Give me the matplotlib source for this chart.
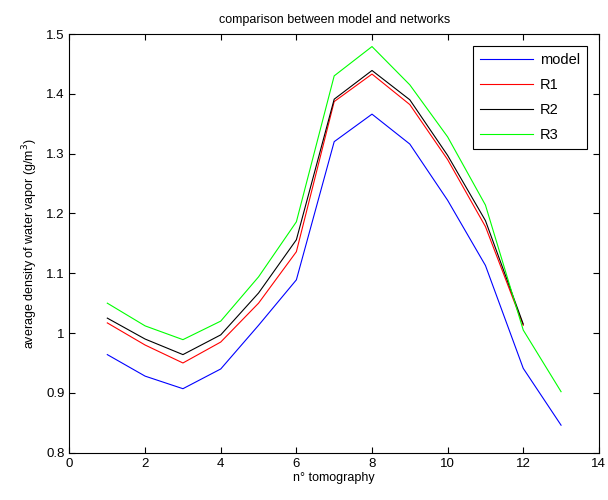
import numpy as np
import matplotlib.pyplot as plt

plt.rcParams['font.family'] = ['Liberation Sans', 'DejaVu Sans']

# data
tomo = [1, 2, 3, 4, 5, 6, 7, 8, 9, 10, 11, 12, 13]
model = [0.964, 0.928, 0.907, 0.940, 1.013, 1.089, 1.320, 1.366, 1.316, 1.222, 1.113, 0.941, 0.846]
r1 = [1.017, 0.980, 0.950, 0.985, 1.050, 1.136, 1.387, 1.433, 1.382, 1.290, 1.178, 1.013]
r2 = [1.025, 0.990, 0.964, 0.997, 1.067, 1.156, 1.391, 1.439, 1.390, 1.297, 1.188, 1.015]
r3 = [1.050, 1.012, 0.989, 1.020, 1.094, 1.186, 1.430, 1.479, 1.415, 1.328, 1.214, 1.005, 0.902]

xticks = [0, 2, 4, 6, 8, 10, 12, 14]
yticks = [0.8, 0.9, 1.0, 1.1, 1.2, 1.3, 1.4, 1.5]
ytick_labels = ['0.8', '0.9', '1', '1.1', '1.2', '1.3', '1.4', '1.5']

fig = plt.figure(figsize=(6.08, 5.0), dpi=100)
ax = fig.add_axes([0.1143, 0.0946, 0.8707, 0.8374])

ax.plot(tomo, model, color='#0000ff', lw=0.8, label='model')
ax.plot(tomo[:len(r1)], r1, color='#ff0000', lw=0.8, label='R1')
ax.plot(tomo[:len(r2)], r2, color='#000000', lw=0.8, label='R2')
ax.plot(tomo, r3, color='#00ff00', lw=0.8, label='R3')

ax.set_xlim(0, 14)
ax.set_ylim(0.8, 1.5)
ax.set_xticks(xticks)
ax.set_yticks(yticks)
ax.set_yticklabels(ytick_labels)
ax.tick_params(direction='in', top=True, right=True, labelsize=9.5, length=4, width=0.8)
for s in ax.spines.values():
    s.set_linewidth(0.8)

ax.set_title('comparison between model and networks', fontsize=9, pad=8)
ax.set_xlabel('n° tomography', fontsize=9, labelpad=2)
ax.set_ylabel('average density of water vapor (g/m$^3$)', fontsize=9, labelpad=4)

leg = ax.legend(loc='upper right', fontsize=10.5, handlelength=3.6, handletextpad=0.5,
                fancybox=False, edgecolor='black', framealpha=1,
                borderaxespad=0.8, labelspacing=0.75, borderpad=0.5)
leg.get_frame().set_linewidth(0.8)

fig.savefig('out.png', dpi=100)
